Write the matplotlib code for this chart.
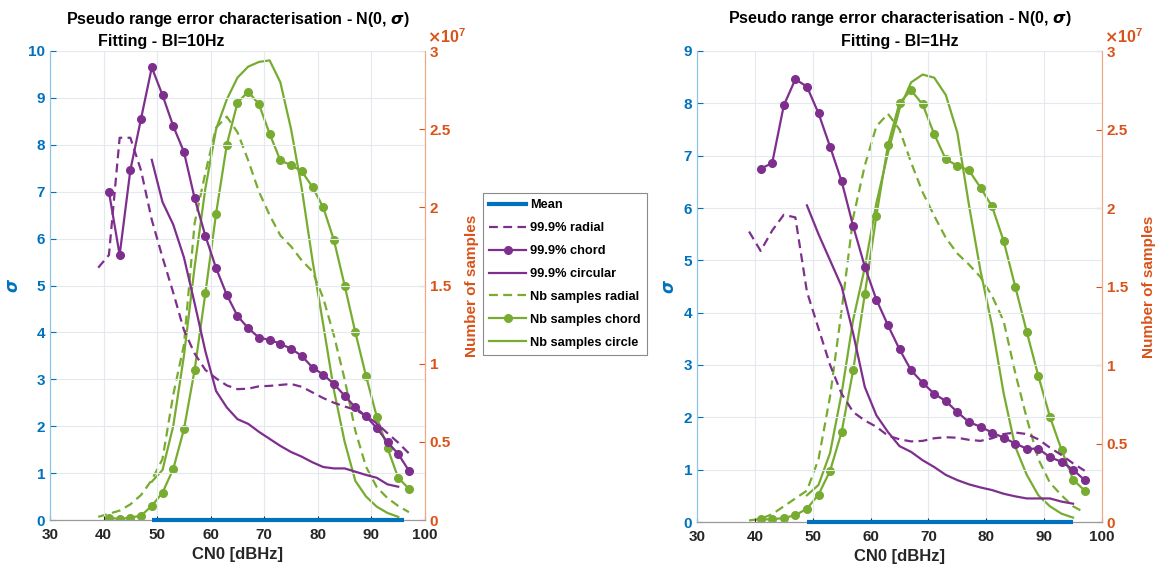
import matplotlib.pyplot as plt
from matplotlib.ticker import MultipleLocator, FormatStrFormatter
from matplotlib.lines import Line2D
import numpy as np

plt.rcParams['font.family'] = ['Liberation Sans', 'DejaVu Sans']
plt.rcParams['font.weight'] = 'bold'
plt.rcParams['mathtext.fontset'] = 'dejavusans'

# CN0 grids
cn0_rad = np.arange(39, 98, 2)
cn0_chord = np.arange(41, 98, 2)
cn0_circ = np.arange(49, 96, 2)

# ---- left: Bl = 10 Hz ----  (Nb samples in units of 1e7)
mean_x_l = [49, 96]
mean_l = [0, 0]
rad_l = [5.38, 5.65, 8.15, 8.15, 7.45, 6.4, 5.6, 4.85, 4.05, 3.55, 3.2, 3.02, 2.87, 2.79, 2.8,
         2.85, 2.86, 2.88, 2.9, 2.84, 2.72, 2.6, 2.5, 2.42, 2.35, 2.22, 2.06, 1.85, 1.65, 1.42]
chord_l = [7.0, 5.65, 7.46, 8.56, 9.65, 9.06, 8.40, 7.85, 6.86, 6.06, 5.37, 4.80, 4.35, 4.09, 3.89,
           3.84, 3.76, 3.65, 3.50, 3.25, 3.10, 2.90, 2.65, 2.40, 2.21, 1.96, 1.66, 1.41, 1.05]
circ_l = [7.68, 6.78, 6.3, 5.6, 4.62, 3.6, 2.75, 2.4, 2.15, 2.05, 1.88, 1.73, 1.58, 1.45, 1.35,
          1.23, 1.13, 1.1, 1.1, 1.03, 0.96, 0.9, 0.76, 0.71]
nb_rad_l = [0.02, 0.04, 0.06, 0.1, 0.16, 0.256, 0.39, 0.8, 1.12, 1.9, 2.22, 2.51, 2.58, 2.48, 2.3,
            2.1, 1.95, 1.82, 1.75, 1.66, 1.59, 1.42, 1.18, 0.9, 0.57, 0.34, 0.21, 0.14, 0.09, 0.05]
nb_chord_l = [0.015, 0.006, 0.015, 0.028, 0.09, 0.175, 0.326, 0.58, 0.96, 1.45, 1.96, 2.40, 2.67,
              2.74, 2.66, 2.47, 2.30, 2.27, 2.23, 2.13, 2.0, 1.79, 1.50, 1.20, 0.92, 0.66, 0.46, 0.27, 0.20]
nb_circ_l = [0.245, 0.32, 0.6, 1.05, 1.62, 2.12, 2.5, 2.69, 2.83, 2.9, 2.93, 2.94, 2.8, 2.5, 2.12,
             1.66, 1.25, 0.83, 0.5, 0.25, 0.15, 0.085, 0.045, 0.02]

# ---- right: Bl = 1 Hz ----
mean_x_r = [49, 95]
mean_r = [0, 0]
rad_r = [5.55, 5.18, 5.57, 5.87, 5.82, 4.4, 3.7, 3.0, 2.45, 2.1, 1.94, 1.82, 1.65, 1.58, 1.54,
         1.55, 1.6, 1.62, 1.61, 1.57, 1.55, 1.6, 1.68, 1.71, 1.68, 1.58, 1.42, 1.28, 1.12, 0.98]
chord_r = [6.75, 6.86, 7.96, 8.46, 8.32, 7.81, 7.17, 6.51, 5.65, 4.88, 4.25, 3.76, 3.30, 2.90, 2.66,
           2.45, 2.31, 2.10, 1.91, 1.82, 1.71, 1.61, 1.50, 1.40, 1.40, 1.24, 1.15, 1.0, 0.80]
circ_r = [6.05, 5.5, 5.0, 4.5, 3.6, 2.58, 2.04, 1.72, 1.45, 1.34, 1.18, 1.05, 0.9, 0.8, 0.72,
          0.66, 0.61, 0.54, 0.49, 0.45, 0.45, 0.45, 0.39, 0.35]
nb_rad_r = [0.01, 0.02, 0.05, 0.1, 0.15, 0.2, 0.4, 0.8, 1.35, 1.94, 2.27, 2.52, 2.6, 2.5, 2.29,
            2.1, 1.95, 1.81, 1.71, 1.64, 1.56, 1.44, 1.28, 0.95, 0.66, 0.4, 0.25, 0.17, 0.1, 0.06]
nb_chord_r = [0.017, 0.017, 0.026, 0.043, 0.085, 0.174, 0.326, 0.574, 0.968, 1.45, 1.95, 2.40, 2.67,
              2.75, 2.66, 2.47, 2.31, 2.27, 2.24, 2.13, 2.01, 1.79, 1.50, 1.21, 0.93, 0.67, 0.46, 0.27, 0.20]
nb_circ_r = [0.17, 0.236, 0.44, 0.82, 1.29, 1.62, 2.03, 2.35, 2.63, 2.8, 2.85, 2.83, 2.72, 2.48, 2.02,
             1.6, 1.25, 0.82, 0.48, 0.3, 0.17, 0.1, 0.053, 0.028]

labels = ["Mean", "99.9% radial", "99.9% chord", "99.9% circular",
          "Nb samples radial", "Nb samples chord", "Nb samples circle"]

blue = '#0072BD'
orange = '#D95319'
purple = '#7E2F8E'
green = '#77AC30'
txt = '#262626'
lw = 1.6
ms = 5.5
dash = (4.0, 2.4)


def draw(rect, ymax, mean_x, mean, rad, chord, circ, nb_rad, nb_chord, nb_circ, sub, sub_x):
    ax = fig.add_axes(rect)
    ax2 = ax.twinx()
    ax.set_zorder(ax2.get_zorder() + 1)
    ax.patch.set_visible(False)

    ax2.plot(cn0_rad, nb_rad, color=green, lw=lw, dashes=dash)
    ax2.plot(cn0_chord, nb_chord, color=green, lw=lw, marker='o', ms=ms)
    ax2.plot(cn0_circ, nb_circ, color=green, lw=lw)

    ax.plot(mean_x, mean, color=blue, lw=3, clip_on=False, solid_capstyle='butt', zorder=4)
    ax.plot(cn0_rad, rad, color=purple, lw=lw, dashes=dash)
    ax.plot(cn0_chord, chord, color=purple, lw=lw, marker='o', ms=ms)
    ax.plot(cn0_circ, circ, color=purple, lw=lw)

    ax.set_xlim(30, 100)
    ax.set_ylim(0, ymax)
    ax2.set_ylim(0, 3)
    ax.xaxis.set_major_locator(MultipleLocator(10))
    ax.yaxis.set_major_locator(MultipleLocator(1))
    ax2.yaxis.set_major_locator(MultipleLocator(0.5))
    ax2.yaxis.set_major_formatter(FormatStrFormatter('%g'))
    ax2.text(1.005, 1.01, r'$\times\mathregular{10^7}$', transform=ax2.transAxes, ha='left',
             va='bottom', color=orange, fontsize=11.5)

    ax.grid(True, color='#e3e9ef', lw=0.8)
    ax.set_axisbelow(True)

    ax.tick_params(axis='x', direction='in', colors=txt, labelsize=11, length=3, pad=6)
    ax.tick_params(axis='y', direction='in', colors=blue, labelsize=11, length=4)
    ax2.tick_params(axis='y', direction='in', colors=orange, labelsize=11, length=4)
    for t in ax.get_xticklabels() + ax.get_yticklabels() + ax2.get_yticklabels():
        t.set_fontweight('bold')

    for a in (ax, ax2):
        a.spines['top'].set_visible(False)
        a.spines['bottom'].set_color('#9a9a9a')
        a.spines['left'].set_color('#8cc4ea')
        a.spines['right'].set_color('#f2a783')

    ax.set_xlabel('CN0 [dBHz]', fontsize=12, fontweight='bold', color=txt, labelpad=3)
    ax.set_ylabel(r'$\sigma$', color=blue, fontsize=12, fontweight='normal', labelpad=5)
    ax2.set_ylabel('Number of samples', color=orange, fontsize=11, fontweight='bold', labelpad=10)

    ax.text(0.5, 1.068, r'Pseudo range error characterisation - N(0, $\sigma$)',
            transform=ax.transAxes, ha='center', va='center', fontsize=11.5, fontweight='bold',
            color='black')
    ax.text(sub_x, 1.021, sub, transform=ax.transAxes, ha='center', va='center',
            fontsize=11.5, fontweight='bold', color='black')
    return ax


fig = plt.figure(figsize=(11.59, 5.69), dpi=100)

draw([50 / 1159, 49 / 569, 375 / 1159, 469 / 569], 10, mean_x_l, mean_l, rad_l, chord_l, circ_l,
     nb_rad_l, nb_chord_l, nb_circ_l, 'Fitting - Bl=10Hz', 0.296)
draw([697 / 1159, 47 / 569, 405 / 1159, 471 / 569], 9, mean_x_r, mean_r, rad_r, chord_r, circ_r,
     nb_rad_r, nb_chord_r, nb_circ_r, 'Fitting - Bl=1Hz', 0.5)

handles = [
    Line2D([], [], color=blue, lw=3),
    Line2D([], [], color=purple, lw=lw, dashes=dash),
    Line2D([], [], color=purple, lw=lw, marker='o', ms=ms),
    Line2D([], [], color=purple, lw=lw),
    Line2D([], [], color=green, lw=lw, dashes=dash),
    Line2D([], [], color=green, lw=lw, marker='o', ms=ms),
    Line2D([], [], color=green, lw=lw),
]
leg = fig.legend(handles, labels, loc='upper left', bbox_to_anchor=(483 / 1159, 1 - 193 / 569),
                 frameon=True, fancybox=False, edgecolor='#8a8a8a', framealpha=1,
                 prop={'size': 9.2, 'weight': 'bold'}, handlelength=2.9, handletextpad=0.3,
                 labelspacing=0.85, borderpad=0.5, borderaxespad=0)
leg.get_frame().set_linewidth(0.8)

fig.savefig('out.png', dpi=100)
